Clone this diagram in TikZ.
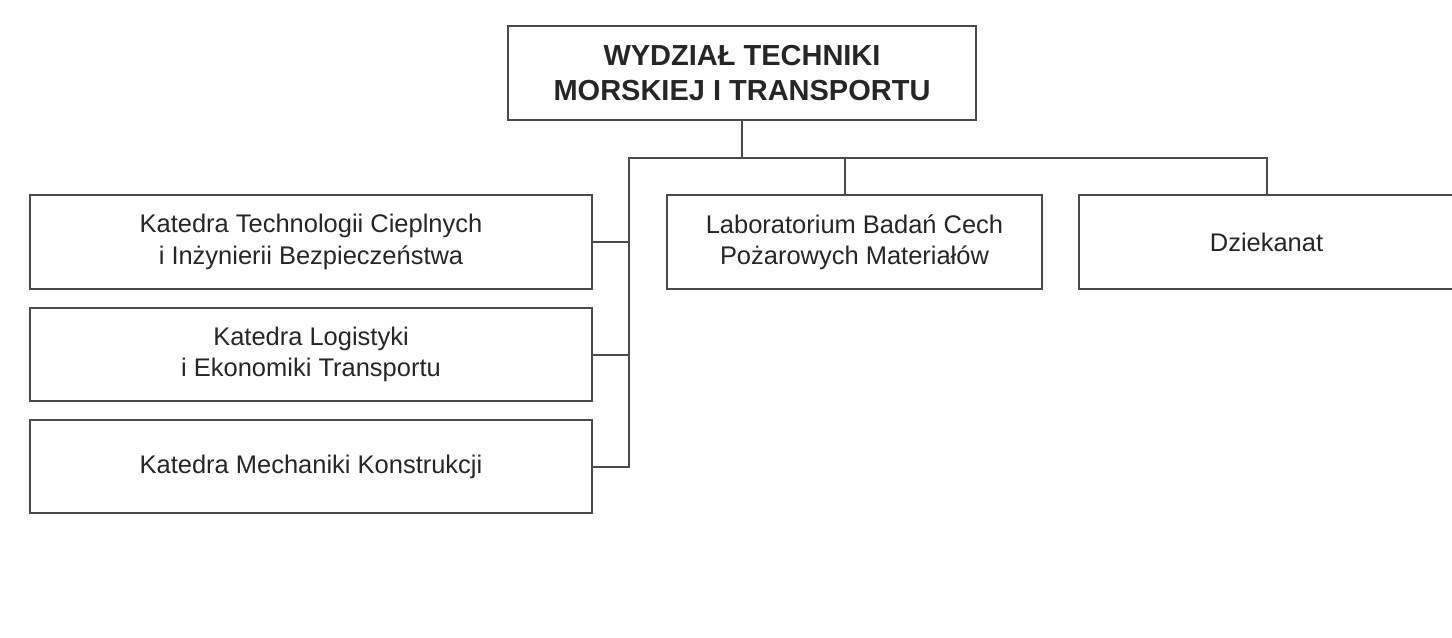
\documentclass[tikz,border=0pt]{standalone}
\usepackage{fontspec}
\setmainfont{Liberation Sans}
\usepackage{tikz}
\usetikzlibrary{shapes.geometric, arrows}
\definecolor{linegray}{HTML}{4A4A4A}
\definecolor{textgray}{HTML}{262626}
\tikzstyle{unit} = [draw=linegray, line width=0.04cm, align=center, text=textgray, inner sep=0pt, minimum height=1.88cm, font=\fontsize{14.5}{17.8}\selectfont]
\tikzstyle{head} = [unit, minimum width=9.36cm, font=\fontsize{16.5}{20}\selectfont\bfseries]
\tikzstyle{link} = [draw=linegray, line width=0.04cm]

\begin{document}
\begin{tikzpicture}[x=0.02cm, y=-0.02cm]
\useasboundingbox (0,0) rectangle (1452,638);

\node[head] (wtm) at (742,73) {WYDZIAŁ TECHNIKI\\MORSKIEJ I TRANSPORTU};

\node[unit, minimum width=11.24cm] (ktc) at (311,242) {Katedra Technologii Cieplnych\\i Inżynierii Bezpieczeństwa};
\node[unit, minimum width=11.24cm] (kle) at (311,354.5) {Katedra Logistyki\\i Ekonomiki Transportu};
\node[unit, minimum width=11.24cm] (kmk) at (311,466.5) {Katedra Mechaniki Konstrukcji};

\node[unit, minimum width=7.5cm] (lab) at (854.5,242) {Laboratorium Badań Cech\\Pożarowych Materiałów};
\node[unit, minimum width=7.5cm] (dzk) at (1266.5,242) {Dziekanat};

\coordinate (bus) at (629,158);

\draw[link] (wtm.south) -- (wtm.south |- bus);
\draw[link] (kmk.east) -| (bus) -- (bus -| dzk.north) -- (dzk.north);
\draw[link] ([xshift=-0.19cm]lab.north) -- ([xshift=-0.19cm]lab.north |- bus);
\draw[link] (ktc.east) -- (ktc.east -| bus);
\draw[link] (kle.east) -- (kle.east -| bus);

\end{tikzpicture}
\end{document}
